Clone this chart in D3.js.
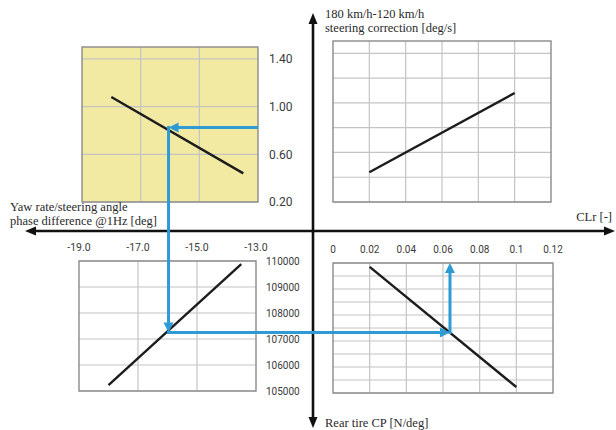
<!DOCTYPE html>
<html>
<head>
<meta charset="utf-8">
<script src="https://cdn.jsdelivr.net/npm/d3@7"></script>
<style>
  html, body { margin: 0; padding: 0; background: #fff; }
  svg { display: block; }
</style>
</head>
<body>
<svg id="chart" width="616" height="430"></svg>
<script>
// ---------- data ----------
const phaseTicks = [-19, -17, -15, -13];
const phaseTickLabels = ["-19.0", "-17.0", "-15.0", "-13.0"];
const clrTicks = [0, 0.02, 0.04, 0.06, 0.08, 0.10, 0.12];
const clrTickLabels = ["0", "0.02", "0.04", "0.06", "0.08", "0.1", "0.12"];
const corrTicks = [0.2, 0.6, 1.0, 1.4];
const corrTickLabels = ["0.20", "0.60", "1.00", "1.40"];
const corrGridTR = [0.2, 0.4, 0.6, 0.8, 1.0, 1.2, 1.4];
const cpTicks = [105000, 106000, 107000, 108000, 109000, 110000];
const cpTickLabels = ["105000", "106000", "107000", "108000", "109000", "110000"];
const cpGridBR = [105000, 105500, 106000, 106500, 107000, 107500, 108000, 108500, 109000, 109500, 110000];

// lines (x, y)
const phaseVsCorr = [[-18.0, 1.08], [-13.5, 0.44]];
const clrVsCorr   = [[0.02, 0.44], [0.10, 1.08]];
const phaseVsCP   = [[-18.0, 105230], [-13.5, 109880]];
const clrVsCP     = [[0.02, 109850], [0.10, 105230]];

// blue read-out path values
const readCorr = 0.825, readPhase = -16.05, readCP = 107250, readCLr = 0.0638;

// ---------- layout ----------
const svg = d3.select("#chart");
const axisX = 313, axisY = 231;

const xTL = d3.scaleLinear().domain([-19, -13]).range([82, 258]);
const yTL = d3.scaleLinear().domain([0.2, 1.5]).range([202, 47]);
const xBL = d3.scaleLinear().domain([-19, -13]).range([79, 256]);
const yBL = d3.scaleLinear().domain([105000, 110000]).range([391, 261]);
const xTR = d3.scaleLinear().domain([0, 0.12]).range([333, 551]);
const yTR = d3.scaleLinear().domain([0.2, 1.5]).range([202, 41]);
const xBR = d3.scaleLinear().domain([0, 0.12]).range([333, 553]);
const yBR = d3.scaleLinear().domain([105000, 110000]).range([393, 263]);

const gridCol = "#c4c4c4", borderCol = "#8a8a8a", blue = "#2f9bd5", ink = "#1c1c1c";
const sans = "Roboto, 'Noto Sans', sans-serif";
const serif = "'Liberation Serif', 'DejaVu Serif', serif";

function panel(x, y, xGrid, yGrid, fill) {
  const g = svg.append("g");
  const [x0, x1] = x.range(), [y0, y1] = y.range();
  g.append("rect").attr("x", x0).attr("y", y1).attr("width", x1 - x0).attr("height", y0 - y1)
    .attr("fill", fill);
  g.selectAll(".vg").data(xGrid).enter().append("line")
    .attr("x1", d => x(d)).attr("x2", d => x(d)).attr("y1", y1).attr("y2", y0)
    .attr("stroke", gridCol).attr("stroke-width", 1.2);
  g.selectAll(".hg").data(yGrid).enter().append("line")
    .attr("x1", x0).attr("x2", x1).attr("y1", d => y(d)).attr("y2", d => y(d))
    .attr("stroke", gridCol).attr("stroke-width", 1.2);
  g.append("rect").attr("x", x0).attr("y", y1).attr("width", x1 - x0).attr("height", y0 - y1)
    .attr("fill", "none").attr("stroke", borderCol).attr("stroke-width", 1.4);
}

function dataLine(x, y, pts) {
  svg.append("path").datum(pts)
    .attr("d", d3.line().x(d => x(d[0])).y(d => y(d[1])))
    .attr("fill", "none").attr("stroke", ink).attr("stroke-width", 2.4);
}

panel(xTL, yTL, [-17, -15], [0.2, 0.6, 1.0, 1.4], "#f2eaa3");
panel(xTR, yTR, [0.02, 0.04, 0.06, 0.08, 0.10], corrGridTR, "#fff");
panel(xBL, yBL, [-17, -15], cpTicks, "#fff");
panel(xBR, yBR, [0.02, 0.04, 0.06, 0.08, 0.10], cpGridBR, "#fff");

dataLine(xTL, yTL, phaseVsCorr);
dataLine(xTR, yTR, clrVsCorr);
dataLine(xBL, yBL, phaseVsCP);
dataLine(xBR, yBR, clrVsCP);

// ---------- tick labels ----------
svg.selectAll(".tlY").data(corrTicks).enter().append("text")
  .attr("x", 269).attr("y", d => yTL(d)).attr("dy", "0.36em")
  .attr("font-family", sans).attr("font-size", 12).attr("fill", "#3a3a3a")
  .text((d, i) => corrTickLabels[i]);
svg.selectAll(".blY").data(cpTicks).enter().append("text")
  .attr("x", 266).attr("y", d => yBL(d)).attr("dy", "0.36em")
  .attr("font-family", sans).attr("font-size", 10).attr("fill", "#3a3a3a")
  .text((d, i) => cpTickLabels[i]);
svg.selectAll(".blX").data(phaseTicks).enter().append("text")
  .attr("x", d => xBL(d)).attr("y", 247).attr("dy", "0.36em").attr("text-anchor", "middle")
  .attr("font-family", sans).attr("font-size", 10.5).attr("fill", "#3a3a3a")
  .text((d, i) => phaseTickLabels[i]);
svg.selectAll(".brX").data(clrTicks).enter().append("text")
  .attr("x", d => xBR(d)).attr("y", 249).attr("dy", "0.36em").attr("text-anchor", "middle")
  .attr("font-family", sans).attr("font-size", 10).attr("fill", "#3a3a3a")
  .text((d, i) => clrTickLabels[i]);

// ---------- main axes ----------
function arrowHead(tipX, tipY, dir, size, width, color) {
  let pts;
  if (dir === "up") pts = [[tipX, tipY], [tipX - width / 2, tipY + size], [tipX + width / 2, tipY + size]];
  if (dir === "down") pts = [[tipX, tipY], [tipX - width / 2, tipY - size], [tipX + width / 2, tipY - size]];
  if (dir === "left") pts = [[tipX, tipY], [tipX + size, tipY - width / 2], [tipX + size, tipY + width / 2]];
  if (dir === "right") pts = [[tipX, tipY], [tipX - size, tipY - width / 2], [tipX - size, tipY + width / 2]];
  svg.append("path").attr("d", "M" + pts.map(p => p.join(",")).join("L") + "Z").attr("fill", color);
}
svg.append("line").attr("x1", axisX).attr("x2", axisX).attr("y1", 22).attr("y2", 420)
  .attr("stroke", "#111").attr("stroke-width", 2.6);
svg.append("line").attr("x1", 33).attr("x2", 606).attr("y1", axisY).attr("y2", axisY)
  .attr("stroke", "#111").attr("stroke-width", 2.6);
arrowHead(axisX, 13, "up", 11, 9, "#111");
arrowHead(axisX, 428, "down", 11, 9, "#111");
arrowHead(25, axisY, "left", 11, 9, "#111");
arrowHead(615, axisY, "right", 11, 9, "#111");

// ---------- axis titles ----------
const titleStyle = s => s.attr("font-family", serif).attr("font-size", 12.5).attr("fill", "#2a2a2a");
titleStyle(svg.append("text").attr("x", 325).attr("y", 18).text("180 km/h-120 km/h"));
titleStyle(svg.append("text").attr("x", 325).attr("y", 32).text("steering correction [deg/s]"));
titleStyle(svg.append("text").attr("x", 10).attr("y", 211).text("Yaw rate/steering angle"));
titleStyle(svg.append("text").attr("x", 10).attr("y", 225).text("phase difference @1Hz [deg]"));
titleStyle(svg.append("text").attr("x", 612).attr("y", 221).attr("text-anchor", "end").text("CLr [-]"));
titleStyle(svg.append("text").attr("x", 325).attr("y", 427).text("Rear tire CP [N/deg]"));

// ---------- blue read-out path ----------
const bx0 = xTL.range()[1], by0 = yTL(readCorr);
const bx1 = xTL(readPhase);
const by2 = yBL(readCP);
const bx3 = xBR(readCLr);
const by4 = yBR.range()[1];
const bw = 3;
function blueSeg(x1, y1, x2, y2) {
  svg.append("line").attr("x1", x1).attr("y1", y1).attr("x2", x2).attr("y2", y2)
    .attr("stroke", blue).attr("stroke-width", bw);
}
blueSeg(bx0, by0, bx1 + 8, by0);
arrowHead(bx1, by0, "left", 10, 10, blue);
blueSeg(bx1, by0 - bw / 2, bx1, by2 - 8);
arrowHead(bx1, by2, "down", 10, 10, blue);
blueSeg(bx1 - bw / 2, by2, bx3 - 8, by2);
arrowHead(bx3, by2, "right", 10, 10, blue);
blueSeg(bx3, by2 + bw / 2, bx3, by4 + 8);
arrowHead(bx3, by4, "up", 10, 10, blue);
</script>
</body>
</html>
